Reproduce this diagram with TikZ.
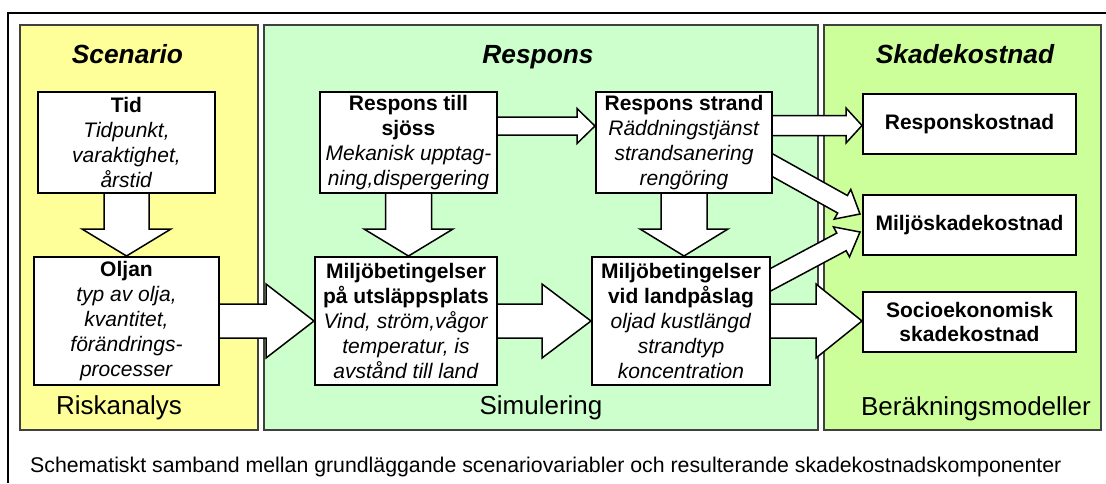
\documentclass[tikz,border=0pt]{standalone}
\usepackage{fontspec}
\setmainfont{Liberation Sans}
\usepackage{tikz}
\usetikzlibrary{calc, positioning}

\pgfdeclarelayer{panels}
\pgfdeclarelayer{arrows}
\pgfsetlayers{panels,arrows,main}

\definecolor{scenyellow}{HTML}{FFFF99}
\definecolor{respgreen}{HTML}{CCFFCC}
\definecolor{costgreen}{HTML}{CCFF99}

% block arrow: start, tip, shaft half width, head half width, head length
\newcommand{\blockarrow}[5]{%
    \coordinate (ba-s) at (#1);
    \coordinate (ba-e) at (#2);
    \coordinate (ba-h) at ($(ba-e)!#5!(ba-s)$);
    \draw [fatarrow] ($(ba-s)!#3!90:(ba-e)$) -- ($(ba-h)!#3!-90:(ba-s)$) -- ($(ba-h)!#4!-90:(ba-s)$)
        -- (ba-e) -- ($(ba-h)!#4!90:(ba-s)$) -- ($(ba-h)!#3!90:(ba-s)$) -- ($(ba-s)!#3!-90:(ba-e)$);
}

\begin{document}
\begin{tikzpicture}[x=1pt, y=-1pt]

    % Define styles
    \tikzstyle{panel} = [draw=black!75, line width=1.5pt]
    \tikzstyle{title} = [font=\fontsize{26.3}{30}\selectfont\bfseries\itshape, anchor=base, inner sep=0pt]
    \tikzstyle{tag} = [font=\fontsize{26}{30}\selectfont, anchor=base, inner sep=0pt]
    \tikzstyle{factor} = [rectangle, draw=black, line width=2pt, fill=white, align=center, inner sep=0pt, font=\fontsize{21}{24.8}\selectfont]
    \tikzstyle{cost} = [factor, minimum width=213pt, minimum height=60pt, font=\fontsize{21}{24.8}\selectfont\bfseries]
    \tikzstyle{fatarrow} = [draw=black, line width=1.5pt, fill=white, line join=miter]

    \useasboundingbox (0,0) rectangle (1106,483);

    % Frame
    \draw [line width=1.3pt] (8,483) -- (8,13) -- (1106,13);

    % Panels
    \begin{pgfonlayer}{panels}
        \draw [panel, fill=scenyellow] (20,25) rectangle (258,430);
        \draw [panel, fill=respgreen] (264,25) rectangle (818,430);
        \draw [panel, fill=costgreen] (824,25) rectangle (1101,430);
    \end{pgfonlayer}

    \node (scentitle) [title] at (127.5,63) {Scenario};
    \node (resptitle) [title] at (538,63) {Respons};
    \node (costtitle) [title] at (965,63) {Skadekostnad};
    \node (scentag) [tag] at (119,414) {Riskanalys};
    \node (resptag) [tag] at (541,414) {Simulering};
    \node (costtag) [tag] at (976,415) {Beräkningsmodeller};

    % Nodes
    \node (tid) [factor, minimum width=177pt, minimum height=101pt] at (126.5,142.5)
        {\textbf{Tid}\\\textit{Tidpunkt,}\\\textit{varaktighet,}\\\textit{årstid}};
    \node (oljan) [factor, minimum width=185pt, minimum height=128pt, below=62pt of tid]
        {\textbf{Oljan}\\\textit{typ av olja,}\\\textit{kvantitet,}\\\textit{förändrings-}\\\textit{processer}};
    \node (sjoss) [factor, minimum width=177pt, minimum height=101pt] at (408.5,142.5)
        {\textbf{Respons till}\\\textbf{sjöss}\\\textit{Mekanisk upptag-}\\\textit{ning,dispergering}};
    \node (utslapp) [factor, minimum width=182pt, minimum height=128pt, below=62pt of sjoss, xshift=-2.5pt]
        {\textbf{Miljöbetingelser}\\\textbf{på utsläppsplats}\\\textit{Vind, ström,vågor}\\\textit{temperatur, is}\\\textit{avstånd till land}};
    \node (strand) [factor, minimum width=176pt, minimum height=101pt] at (684,142.5)
        {\textbf{Respons strand}\\\textit{Räddningstjänst}\\\textit{strandsanering}\\\textit{rengöring}};
    \node (land) [factor, minimum width=178pt, minimum height=128pt, below=62pt of strand, xshift=-3pt]
        {\textbf{Miljöbetingelser}\\\textbf{vid landpåslag}\\\textit{oljad kustlängd}\\\textit{strandtyp}\\\textit{koncentration}};
    \node (respkost) [cost] at (969.5,124) {Responskostnad};
    \node (miljo) [cost, below=39pt of respkost] {Miljöskadekostnad};
    \node (socio) [cost, below=35pt of miljo] {Socioekonomisk\\skadekostnad};

    % Arrows
    \coordinate (sea-s) at ($(sjoss.center)+(0,-16.5)$);
    \coordinate (shore-s) at ($(strand.center)+(0,-17)$);
    \coordinate (up-s) at ($(strand.east)+(0,23)$);
    \coordinate (up-e) at ($(miljo.west)+(-2,-11)$);
    \coordinate (lo-s) at ($(land.east)+(0,-41.5)$);
    \coordinate (lo-e) at ($(miljo.west)+(-2,7)$);
    \begin{pgfonlayer}{arrows}
        \blockarrow{tid.center}{tid.center |- oljan.north}{22.5pt}{44.5pt}{27pt}
        \blockarrow{sjoss.center}{sjoss.center |- utslapp.north}{23pt}{44.5pt}{27pt}
        \blockarrow{strand.center}{strand.center |- land.north}{23pt}{44pt}{27pt}
        \blockarrow{oljan.center}{utslapp.west}{17pt}{37pt}{48pt}
        \blockarrow{utslapp.center}{land.west}{17pt}{37pt}{49pt}
        \blockarrow{land.center}{land.center -| socio.west}{17pt}{37pt}{46pt}
        \blockarrow{sea-s}{sea-s -| strand.west}{9pt}{17.5pt}{18pt}
        \blockarrow{shore-s}{shore-s -| respkost.west}{10pt}{17.5pt}{16pt}
        \blockarrow{$(up-s)!-0.4!(up-e)$}{up-e}{10pt}{17pt}{20pt}
        \blockarrow{$(lo-s)!-0.4!(lo-e)$}{lo-e}{10pt}{17pt}{21pt}
    \end{pgfonlayer}

    % Caption
    \node (caption) [anchor=base west, inner sep=0pt, font=\fontsize{21.3}{25}\selectfont] at (30,472)
        {Schematiskt samband mellan grundläggande scenariovariabler och resulterande skadekostnadskomponenter};

\end{tikzpicture}
\end{document}
